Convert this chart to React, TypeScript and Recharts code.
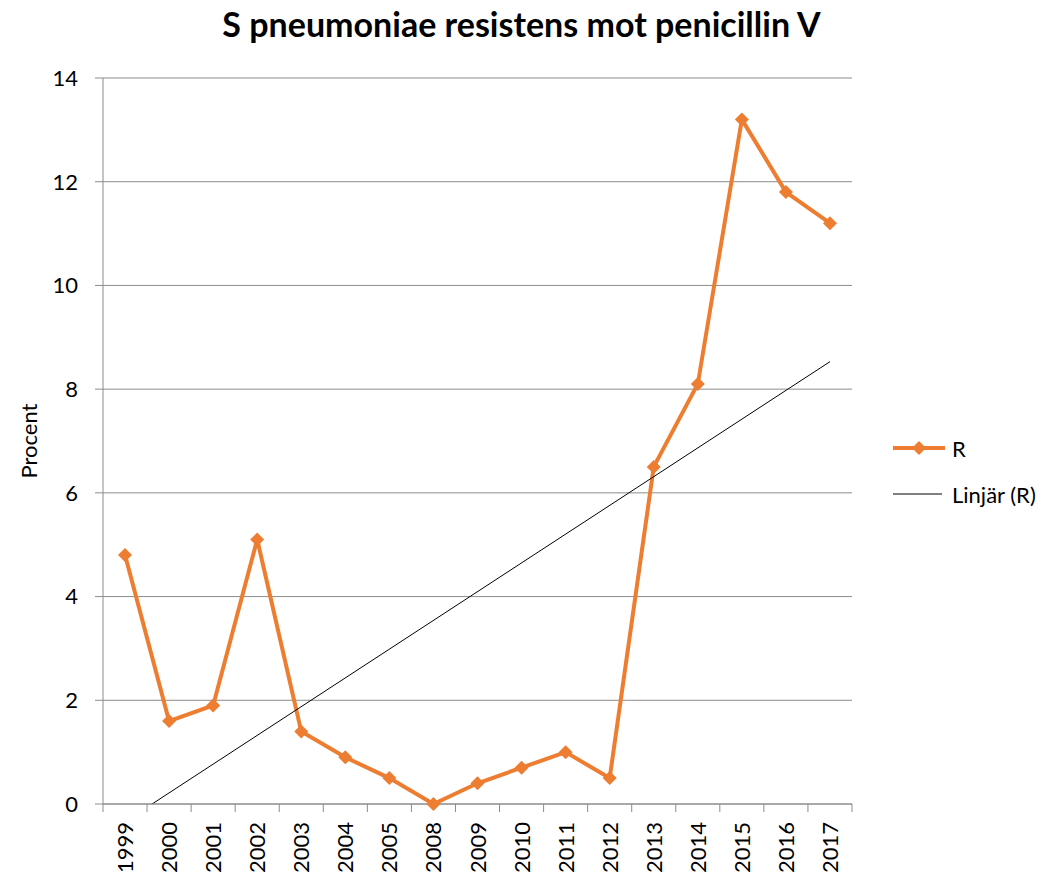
import { LineChart, Line, XAxis, YAxis, CartesianGrid } from "recharts";

const years = ["1999", "2000", "2001", "2002", "2003", "2004", "2005", "2008", "2009", "2010", "2011", "2012", "2013", "2014", "2015", "2016", "2017"];
const rValues = [4.8, 1.6, 1.9, 5.1, 1.4, 0.9, 0.5, 0.0, 0.4, 0.7, 1.0, 0.5, 6.5, 8.1, 13.2, 11.8, 11.2];
// linear trendline ends (first and last year)
const trendEnds = [-0.34, 8.53];
const yTicks = [0, 2, 4, 6, 8, 10, 12, 14];

const ORANGE = "#ED7D31";
const GRID = "#8c8c8c";
const FONT = "Lato, 'Open Sans', sans-serif";

const data = years.map((year, i) => ({
  year,
  r: rValues[i],
  trend: i === 0 ? trendEnds[0] : i === years.length - 1 ? trendEnds[1] : null,
}));

const Diamond = (props: any) => {
  const { cx, cy } = props;
  if (cx == null || cy == null) return null;
  const s = 7;
  return (
    <polygon
      points={`${cx},${cy - s} ${cx + s},${cy} ${cx},${cy + s} ${cx - s},${cy}`}
      fill={ORANGE}
    />
  );
};

const YearTick = (props: any) => {
  const { x, y, payload, index, width, visibleTicksCount } = props;
  const band = width / (visibleTicksCount || years.length);
  const top = y - 18;
  return (
    <g>
      <line x1={x - band / 2} y1={top} x2={x - band / 2} y2={top + 8} stroke={GRID} />
      {index === years.length - 1 && (
        <line x1={x + band / 2} y1={top} x2={x + band / 2} y2={top + 8} stroke={GRID} />
      )}
      <text
        x={x + 8}
        y={y}
        transform={`rotate(-90, ${x + 8}, ${y})`}
        textAnchor="end"
        fontSize={22}
        fontFamily={FONT}
        fill="#000"
      >
        {payload.value}
      </text>
    </g>
  );
};

const YLabel = (props: any) => {
  const { viewBox } = props;
  const cy = viewBox.y + viewBox.height / 2;
  return (
    <text
      x={37}
      y={cy}
      transform={`rotate(-90, 37, ${cy})`}
      textAnchor="middle"
      fontSize={22}
      fontFamily={FONT}
      fill="#000"
    >
      Procent
    </text>
  );
};

export default function App() {
  return (
    <div
      style={{
        position: "absolute",
        left: 0,
        top: 0,
        width: 1061,
        height: 876,
        background: "#fff",
        fontFamily: FONT,
      }}
    >
      <div
        style={{
          position: "absolute",
          left: 0,
          top: 2,
          width: 1043,
          textAlign: "center",
          fontSize: 34,
          fontWeight: 700,
          lineHeight: "44px",
        }}
      >
        S pneumoniae resistens mot penicillin V
      </div>

      <LineChart
        width={1061}
        height={876}
        data={data}
        margin={{ top: 78, right: 209, bottom: 0, left: 0 }}
      >
        <CartesianGrid vertical={false} stroke={GRID} />
        <XAxis
          dataKey="year"
          scale="band"
          height={72}
          stroke={GRID}
          tickLine={false}
          tickSize={8}
          tickMargin={10}
          interval={0}
          tick={<YearTick />}
        />
        <YAxis
          width={103}
          domain={[0, 14]}
          ticks={yTicks}
          stroke={GRID}
          tickSize={8}
          tickMargin={17}
          tick={{ fill: "#000", fontSize: 22, fontFamily: FONT }}
          label={<YLabel />}
        />
        <YAxis yAxisId="trend" hide domain={[0, 14]} allowDataOverflow />
        <Line
          dataKey="r"
          stroke={ORANGE}
          strokeWidth={4}
          dot={<Diamond />}
          activeDot={false}
          isAnimationActive={false}
        />
        <Line
          yAxisId="trend"
          dataKey="trend"
          stroke="#000"
          strokeWidth={1}
          dot={false}
          activeDot={false}
          connectNulls
          isAnimationActive={false}
        />
      </LineChart>

      <div style={{ position: "absolute", left: 892, top: 433, fontSize: 22 }}>
        <div style={{ display: "flex", alignItems: "center", height: 30 }}>
          <svg width={54} height={30}>
            <line x1={1} y1={15} x2={53} y2={15} stroke={ORANGE} strokeWidth={4} />
            <polygon points="27,8 34,15 27,22 20,15" fill={ORANGE} />
          </svg>
          <span style={{ marginLeft: 6 }}>R</span>
        </div>
        <div style={{ display: "flex", alignItems: "center", height: 30, marginTop: 16 }}>
          <svg width={54} height={30}>
            <line x1={1} y1={15} x2={50} y2={15} stroke="#000" strokeWidth={1} />
          </svg>
          <span style={{ marginLeft: 6 }}>Linjär (R)</span>
        </div>
      </div>
    </div>
  );
}
